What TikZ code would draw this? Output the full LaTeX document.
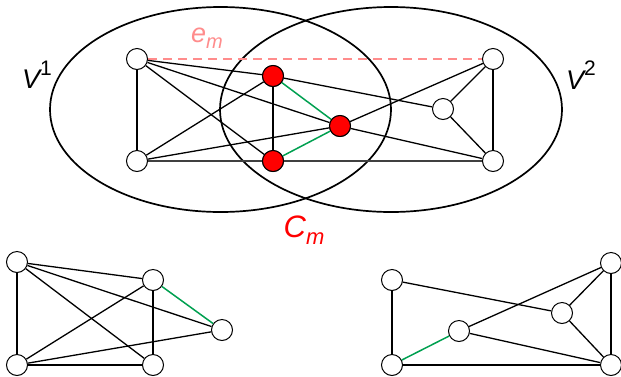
\documentclass[tikz,border=0pt]{standalone}
\usepackage{fontspec}
\setmainfont{Liberation Sans}
\definecolor{pinkish}{RGB}{255,140,140}
\definecolor{edgegreen}{RGB}{0,160,80}
\definecolor{nodered}{RGB}{255,0,0}
\newcommand{\supsc}[2]{\raisebox{0.5em}{\fontsize{#1}{#1}\selectfont\upshape #2}}
\newcommand{\subsc}[2]{\raisebox{-0.22em}{\fontsize{#1}{#1}\selectfont\itshape #2}}
\begin{document}
\begin{tikzpicture}[x=1pt,y=-1pt,
  vtx/.style={circle,draw=black,fill=white,line width=1pt,minimum size=21pt,inner sep=0pt},
  rvtx/.style={vtx,fill=nodered},
  edge/.style={line width=1.3pt,draw=black},
  gedge/.style={line width=1.5pt,draw=edgegreen},
  set/.style={line width=1.7pt,draw=black},
  lab/.style={inner sep=0pt,font=\fontsize{27}{27}\selectfont\itshape}]
\useasboundingbox (0,0) rectangle (621,376);
% ellipses
\draw[set] (220.5,109.5) ellipse [x radius=170.5, y radius=102.5];
\draw[set] (391,109.5) ellipse [x radius=171, y radius=102.5];
% top nodes
\node[vtx] (A) at (137,59) {};
\node[vtx] (B) at (137,161) {};
\node[rvtx] (R1) at (273,76) {};
\node[rvtx] (R2) at (273,161) {};
\node[rvtx] (R3) at (340,126) {};
\node[vtx] (W1) at (493,59) {};
\node[vtx] (W2) at (443,109) {};
\node[vtx] (W3) at (493,161) {};
% top edges
\draw[draw=pinkish,line width=1.2pt,dash pattern=on 9pt off 6pt] (A) -- (W1);
\draw[edge] (A) -- (B);
\draw[edge] (A) -- (R1);
\draw[edge] (A) -- (R3);
\draw[edge] (A) -- (R2);
\draw[edge] (R1) -- (W2);
\draw[edge] (B) -- (R1);
\draw[edge] (B) -- (R3);
\draw[edge,draw=black!75] (B) -- (W3);
\draw[edge] (R1) -- (R2);
\draw[gedge] (R1) -- (R3);
\draw[gedge] (R2) -- (R3);
\draw[edge] (R3) -- (W1);
\draw[edge] (R3) -- (W3);
\draw[edge] (W1) -- (W2);
\draw[edge] (W2) -- (W3);
\draw[edge] (W1) -- (W3);
% redraw nodes on top
\node[rvtx] at (R2) {};
\node[rvtx] at (R1) {};
\node[rvtx] at (R3) {};
% labels
\node[lab] (v1) at (37,75) {V\supsc{21}{1}};
\node[lab] (v2) at (581,75) {V\supsc{21}{2}};
\node[lab,text=pinkish] (em) at (207,38) {e\subsc{20}{m}};
\node[lab,text=nodered,font=\fontsize{31}{31}\selectfont\itshape] (cm) at (304,230) {C\subsc{22}{m}};
% bottom left
\node[vtx] (P1) at (17,262) {};
\node[vtx] (P2) at (153,280) {};
\node[vtx] (P3) at (222,330) {};
\node[vtx] (P4) at (17,365) {};
\node[vtx] (P5) at (153,365) {};
\draw[edge] (P1) -- (P2);
\draw[edge] (P1) -- (P3);
\draw[edge] (P1) -- (P5);
\draw[edge] (P1) -- (P4);
\draw[gedge] (P2) -- (P3);
\draw[edge] (P2) -- (P4);
\draw[edge] (P2) -- (P5);
\draw[edge] (P4) -- (P3);
\draw[edge] (P4) -- (P5);
% bottom right
\node[vtx] (Q1) at (392,280) {};
\node[vtx] (Q2) at (459,331) {};
\node[vtx] (Q3) at (562,313) {};
\node[vtx] (Q4) at (611,263) {};
\node[vtx] (Q5) at (392,365) {};
\node[vtx] (Q6) at (611,365) {};
\draw[edge] (Q1) -- (Q5);
\draw[edge] (Q1) -- (Q3);
\draw[gedge] (Q5) -- (Q2);
\draw[edge] (Q2) -- (Q4);
\draw[edge] (Q2) -- (Q6);
\draw[edge] (Q3) -- (Q4);
\draw[edge] (Q3) -- (Q6);
\draw[edge] (Q4) -- (Q6);
\draw[edge] (Q5) -- (Q6);
\end{tikzpicture}
\end{document}
